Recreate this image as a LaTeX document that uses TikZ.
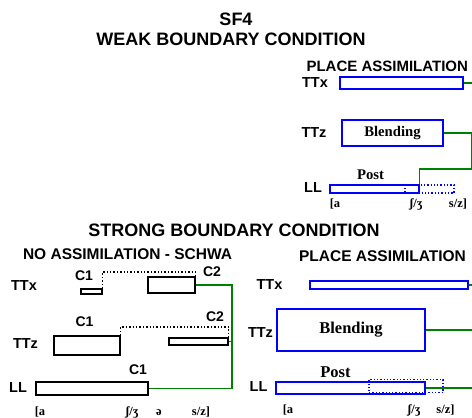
\documentclass[tikz,border=0pt]{standalone}
\usepackage{fontspec}
\setmainfont{Liberation Serif}
\setsansfont{Liberation Sans}
\usetikzlibrary{calc}

\begin{document}
\begin{tikzpicture}[x=1pt,y=-1pt,
    head/.style={font=\sffamily\bfseries\fontsize{18}{20}\selectfont},
    sub/.style={font=\sffamily\bfseries\fontsize{15.5}{17}\selectfont},
    tier/.style={font=\sffamily\bfseries\fontsize{14.5}{16}\selectfont},
    gest/.style={font=\sffamily\bfseries\fontsize{14}{16}\selectfont},
    seg/.style={font=\bfseries\fontsize{12.5}{14}\selectfont,anchor=base},
    bbox/.style={draw=black,line width=1.4pt,inner sep=0pt},
    ubox/.style={draw=blue,line width=1.4pt,inner sep=0pt},
    udot/.style={draw=blue,line width=1.3pt,dotted,inner sep=0pt},
    link/.style={draw=black,line width=1.4pt,dotted},
    conn/.style={draw=green!50!black,line width=1.4pt}]
      \clip (0,0) rectangle (472,418);
      \fill[white] (0,0) rectangle (472,418);
      % titles
      \node[head] (title) at (236,19) {SF4};
      \node[head] (weak) at (231,39.5) {WEAK BOUNDARY CONDITION};
      \node[head] (strong) at (234,230) {STRONG BOUNDARY CONDITION};
      % weak boundary - place assimilation
      \node[sub,font=\sffamily\bfseries\fontsize{15}{17}\selectfont,anchor=west] (wplace) at (303,66) {PLACE ASSIMILATION};
      \node[tier] (wttxl) at (315,83) {TTx};
      \node[tier] (wttzl) at (314,132.5) {TTz};
      \node[tier] (wlll) at (313,187.5) {LL};
      \node[ubox,minimum width=123,minimum height=12] (wttx) at (401.5,83) {};
      \node[ubox,minimum width=101,minimum height=26,font=\bfseries\fontsize{14.7}{16}\selectfont] (wttz) at (392.5,133) {Blending};
      \node[udot,minimum width=49,minimum height=8] (wlld) at (429.5,189) {};
      \node[ubox,minimum width=89,minimum height=8] (wll) at (374.5,189) {};
      \node[font=\bfseries\fontsize{14.7}{16}\selectfont] (wpost) at (370.5,175) {Post};
      \node[seg] (wa) at (335,207) {[a};
      \node[seg] (wsh) at (416,207) {ʃ/ʒ};
      \node[seg] (wsz) at (458,207) {s/z]};
      \draw[conn] (wttx.east) -- ++(12,0);
      \draw[conn] (wttz.east) -- ++(28,0) -- ++(0,36) -| (wll.north east);
      % strong boundary - no assimilation
      \node[sub] (snone) at (127.5,254.5) {NO ASSIMILATION - SCHWA};
      \node[tier] (sttxl) at (24,286) {TTx};
      \node[tier] (sttzl) at (25.5,343.5) {TTz};
      \node[tier] (slll) at (18,388) {LL};
      \node[bbox,minimum width=21,minimum height=5] (sx1) at (91.5,291.5) {};
      \node[bbox,minimum width=47,minimum height=16] (sx2) at (171.5,285) {};
      \node[bbox,minimum width=66,minimum height=19] (sz1) at (87,345.5) {};
      \node[bbox,minimum width=59,minimum height=7] (sz2) at (198.5,341.5) {};
      \node[bbox,minimum width=112,minimum height=13] (sll) at (92,388.5) {};
      \node[gest] (sx1l) at (84,276) {C1};
      \node[gest] (sx2l) at (212,272) {C2};
      \node[gest] (sz1l) at (84.5,321.5) {C1};
      \node[gest] (sz2l) at (215,316.5) {C2};
      \node[gest] (slll1) at (138,370) {C1};
      \node[seg] (sa) at (40,415) {[a};
      \node[seg] (ssh) at (132,415) {ʃ/ʒ};
      \node[seg] (sschwa) at (159,415) {ə};
      \node[seg] (ssz) at (201,415) {s/z]};
      \draw[link] (sx1.north east) |- ([yshift=4.5pt]sx2.north east) -- (sx2.north east);
      \draw[link] (sz1.north east) |- ([yshift=10.5pt]sz2.north east) -- (sz2.north east);
      \coordinate (sbus) at (232,285);
      \draw[conn] (sx2.east) -- (sbus) |- (sll.east);
      \draw[conn] (sz2.east) -- (sz2.east -| sbus);
      % strong boundary - place assimilation
      \node[sub] (splace) at (382.5,256) {PLACE ASSIMILATION};
      \node[tier] (sttxr) at (269.5,285) {TTx};
      \node[tier] (sttzr) at (260.5,333) {TTz};
      \node[tier] (sllr) at (258.5,387) {LL};
      \node[ubox,minimum width=158,minimum height=8] (pttx) at (389,285) {};
      \node[ubox,minimum width=148,minimum height=42,font=\bfseries\fontsize{16.5}{18}\selectfont] (pttz) at (351,330) {Blending};
      \node[ubox,minimum width=149,minimum height=12] (pll) at (350.5,388) {};
      \node[udot,minimum width=74,minimum height=13] (plld) at (406,386) {};
      \node[font=\bfseries\fontsize{16.5}{18}\selectfont] (ppost) at (335.5,372.5) {Post};
      \node[seg] (pa) at (288,413) {[a};
      \node[seg] (psh) at (414,413) {ʃ/ʒ};
      \node[seg] (psz) at (445.5,413) {s/z]};
      \draw[conn] (pttx.east) -- ++(10,0);
      \draw[conn] (pttz.east) -- ++(50,0);
      \draw[conn] (pll.east) -- ++(50,0);
    \end{tikzpicture}
\end{document}
